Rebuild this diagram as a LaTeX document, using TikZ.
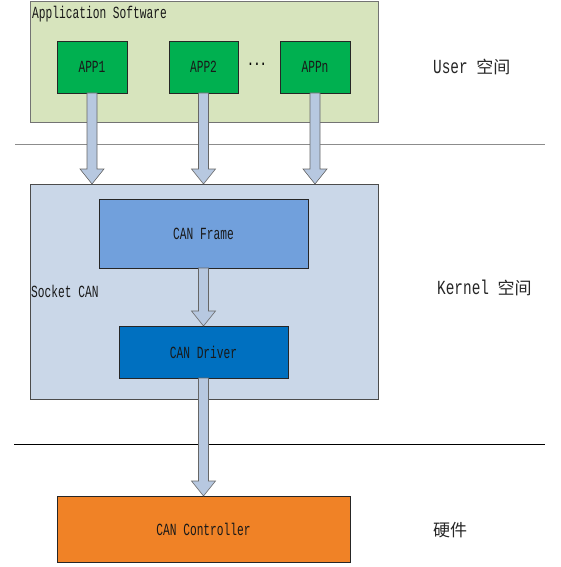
\documentclass[tikz,border=0pt]{standalone}
\usepackage{fontspec}
\newfontfamily\lbl[FakeStretch=0.66]{Liberation Mono}
\newfontfamily\sidefont[FakeStretch=0.72]{Liberation Mono}
\newfontfamily\cjk{Noto Sans CJK SC}
\usetikzlibrary{calc}
\definecolor{appbg}{HTML}{D7E4BD}
\definecolor{appc}{HTML}{00B050}
\definecolor{sockbg}{HTML}{CAD7E8}
\definecolor{framec}{HTML}{71A0DC}
\definecolor{drvc}{HTML}{0070C0}
\definecolor{ctrlc}{HTML}{F08226}
\definecolor{arrowc}{HTML}{B7C8E0}
\tikzset{
  area/.style={draw=black!55, line width=0.8pt, inner sep=0pt, outer sep=0pt, anchor=north west},
  blockbox/.style={draw=black!85, line width=0.8pt, inner sep=0pt, outer sep=0pt, anchor=north west, font=\lbl\fontsize{17}{17}\selectfont, text=black!90},
  lbltext/.style={font=\lbl\fontsize{17}{17}\selectfont, text=black!90, inner sep=0pt},
  sidetext/.style={font=\sidefont\fontsize{20}{20}\selectfont, text=black!85, inner sep=0pt},
  blk/.style={draw=black!60, fill=arrowc, line width=0.6pt, line join=miter},
  sep/.style={line width=1pt}
}
\newcommand\blkarrow[2]{%
  \draw[blk] let \p1=(#1), \p2=(#2) in
    (\x1-5pt,\y1) -- (\x1+5pt,\y1) -- (\x1+5pt,\y2+15pt) -- (\x1+12pt,\y2+15pt)
    -- (\x1,\y2) -- (\x1-12pt,\y2+15pt) -- (\x1-5pt,\y2+15pt) -- cycle;}
\begin{document}
\begin{tikzpicture}[x=1pt,y=-1pt]
\useasboundingbox (0,0) rectangle (560,567);
% separators
\coordinate (s1a) at (15,144); \coordinate (s1b) at (545,144);
\coordinate (s2a) at (14,444); \coordinate (s2b) at (545,444);
\draw[sep, draw=black!45] (s1a) -- (s1b);
\draw[sep, draw=black] (s2a) -- (s2b);
% user space
\node[area, fill=appbg, minimum width=348, minimum height=121] (user) at (30,1) {};
\node[lbltext, anchor=west] (usertitle) at (32,14) {Application Software};
\node[blockbox, fill=appc, minimum width=70, minimum height=52] (app1) at (57,41) {APP1};
\node[blockbox, fill=appc, minimum width=69, minimum height=52] (app2) at (169,41) {APP2};
\node[blockbox, fill=appc, minimum width=70, minimum height=52] (appn) at (280,41) {APPn};
\node[font=\lbl\bfseries\fontsize{16}{16}\selectfont, inner sep=0pt] (dots) at (257,64) {...};
% kernel space
\node[area, fill=sockbg, draw=black!70, minimum width=348, minimum height=215] (sock) at (30,184) {};
\node[lbltext, anchor=west] (socktitle) at (31,291) {Socket CAN};
\node[blockbox, fill=framec, minimum width=209, minimum height=69] (frame) at (99,199) {CAN Frame};
\node[blockbox, fill=drvc, minimum width=169, minimum height=52] (drv) at (119,326) {CAN Driver};
% hardware
\node[blockbox, fill=ctrlc, minimum width=293, minimum height=66] (ctrl) at (57,496) {CAN Controller};
% side labels
\node[sidetext, anchor=west] (ulabel) at (433,67) {User {\cjk\fontsize{17}{17}\selectfont 空间}};
\node[sidetext, anchor=west] (klabel) at (437,288) {Kernel {\cjk\fontsize{17}{17}\selectfont 空间}};
\node[sidetext, anchor=west] (hlabel) at (433,530) {\cjk\fontsize{17}{17}\selectfont 硬件};
% arrows
\coordinate (t1) at (app1.south |- sock.north);
\coordinate (t2) at (app2.south |- sock.north);
\coordinate (t3) at (appn.south |- sock.north);
\blkarrow{app1.south}{t1}
\blkarrow{app2.south}{t2}
\blkarrow{appn.south}{t3}
\blkarrow{frame.south}{drv.north}
\blkarrow{drv.south}{ctrl.north}
\end{tikzpicture}
\end{document}
